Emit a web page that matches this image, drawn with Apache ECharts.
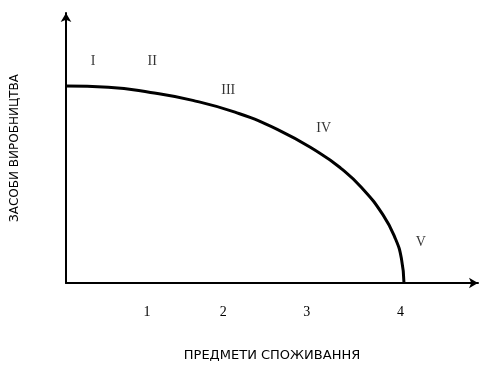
<!DOCTYPE html>
<html>
<head>
<meta charset="utf-8">
<script src="https://cdn.jsdelivr.net/npm/echarts@6/dist/echarts.min.js"></script>
<style>
  html, body { margin: 0; padding: 0; background: #fff; }
  #main { width: 482px; height: 368px; }
</style>
</head>
<body>
<div id="main"></div>
<script>
// крива виробничих можливостей
var curveX = [0, 0.5, 1, 1.5, 2, 2.5, 3, 3.25, 3.5, 3.75, 3.9, 3.97, 4];
var curveY = [3, 2.98, 2.9, 2.78, 2.6, 2.34, 1.98, 1.75, 1.45, 1.04, 0.67, 0.37, 0];

// римські позначки точок
var pointNames = ['I', 'II', 'III', 'IV', 'V'];
var pointX = [0.32, 1.02, 1.92, 3.05, 4.2];
var pointY = [3.38, 3.38, 2.94, 2.36, 0.62];

// підписи по осі X
var tickLabels = ['1', '2', '3', '4'];
var tickPos = [0.96, 1.86, 2.85, 3.96];

var xName = 'ПРЕДМЕТИ СПОЖИВАННЯ';
var yName = 'ЗАСОБИ ВИРОБНИЦТВА';

var chart = echarts.init(document.getElementById('main'));

var curveData = [];
for (var i = 0; i < curveX.length; i++) {
    curveData.push([curveX[i], curveY[i]]);
}
var pointData = [];
for (var j = 0; j < pointNames.length; j++) {
    pointData.push({name: pointNames[j], value: [pointX[j], pointY[j]]});
}

var option = {
    animation: false,
    grid: {left: 66, right: 4, top: 13, bottom: 85, outerBoundsMode: 'none', containLabel: false},
    xAxis: {
        type: 'value',
        min: 0,
        max: 4.876,
        name: xName,
        nameLocation: 'middle',
        nameGap: 66,
        nameTextStyle: {fontFamily: 'DejaVu Sans', fontSize: 13, color: '#000'},
        axisLine: {
            show: true,
            symbol: ['none', 'arrow'],
            symbolSize: [8, 9],
            lineStyle: {color: '#000', width: 2}
        },
        axisTick: {show: false},
        splitLine: {show: false},
        axisLabel: {
            customValues: tickPos,
            margin: 22,
            fontFamily: 'Liberation Serif',
            fontSize: 14,
            color: '#000',
            formatter: function (v) {
                var k = tickPos.indexOf(v);
                return k >= 0 ? tickLabels[k] : '';
            }
        }
    },
    yAxis: {
        type: 'value',
        min: 0,
        max: 4.11,
        name: yName,
        nameLocation: 'middle',
        nameGap: 45,
        nameTextStyle: {fontFamily: 'DejaVu Sans', fontSize: 12, color: '#000'},
        axisLine: {
            show: true,
            symbol: ['none', 'arrow'],
            symbolSize: [8, 9],
            lineStyle: {color: '#000', width: 2}
        },
        axisTick: {show: false},
        axisLabel: {show: false},
        splitLine: {show: false}
    },
    series: [
        {
            type: 'line',
            data: curveData,
            smooth: true,
            showSymbol: false,
            lineStyle: {color: '#000', width: 3}
        },
        {
            type: 'scatter',
            data: pointData,
            symbolSize: 0,
            label: {
                show: true,
                position: 'inside',
                formatter: '{b}',
                fontFamily: 'Liberation Serif',
                fontSize: 14,
                color: '#000'
            }
        }
    ]
};
chart.setOption(option);
</script>
</body>
</html>
